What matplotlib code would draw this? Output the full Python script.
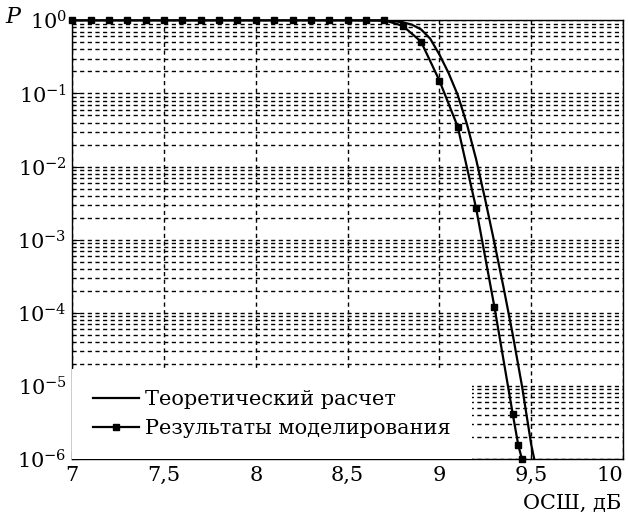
import matplotlib
matplotlib.use("Agg")
import matplotlib.pyplot as plt
import numpy as np
from matplotlib.ticker import FixedLocator, FuncFormatter, LogLocator, NullFormatter

plt.rcParams['font.family'] = ['DejaVu Serif']
plt.rcParams['mathtext.fontset'] = 'dejavuserif'

# theoretical curve
snr_theory = [7.0, 8.5, 8.7, 8.75, 8.8, 8.85, 8.9, 8.95, 9.0, 9.05, 9.1, 9.15,
              9.2, 9.25, 9.3, 9.35, 9.4, 9.45, 9.5, 9.53]
p_theory = [1.0, 1.0, 0.99, 0.97, 0.94, 0.87, 0.75, 0.56, 0.34, 0.19, 0.095, 0.038,
            0.0126, 0.0035, 9e-4, 2.2e-4, 5e-5, 1.0e-5, 1.6e-6, 7e-7]

# simulation results
snr_sim = [7.0, 7.1, 7.2, 7.3, 7.4, 7.5, 7.6, 7.7, 7.8, 7.9, 8.0, 8.1, 8.2,
           8.3, 8.4, 8.5, 8.6, 8.7, 8.8, 8.9, 9.0, 9.1, 9.2, 9.3, 9.4, 9.43, 9.45]
p_sim = [1.0] * 18 + [0.84, 0.51, 0.15, 0.035, 0.0027, 1.2e-4, 4.1e-6, 1.55e-6, 1.0e-6]

x_ticks = [7, 7.5, 8, 8.5, 9, 9.5, 10]

fig = plt.figure(figsize=(6.28, 5.19), dpi=100)
ax = fig.add_axes([0.115, 0.115, 0.877, 0.846])

ax.plot(snr_theory, p_theory, color='black', lw=1.6, label='Теоретический расчет')
ax.plot(snr_sim, p_sim, color='black', lw=1.6, marker='s', ms=5, clip_on=False,
        label='Результаты моделирования')

ax.set_yscale('log')
ax.set_xlim(7, 10)
ax.set_ylim(1e-6, 1)

ax.xaxis.set_major_locator(FixedLocator(x_ticks))
ax.xaxis.set_major_formatter(FuncFormatter(lambda v, p: ('%g' % v).replace('.', ',')))
ax.yaxis.set_major_locator(LogLocator(base=10, numticks=10))
ax.yaxis.set_minor_locator(LogLocator(base=10, subs=np.arange(2, 10), numticks=20))
ax.yaxis.set_minor_formatter(NullFormatter())

ax.tick_params(axis='both', which='major', direction='in', labelsize=15, length=6)
ax.tick_params(axis='y', which='minor', length=0)
ax.tick_params(axis='y', pad=4)
ax.tick_params(axis='x', pad=5)
for lab in ax.get_xticklabels():
    if lab.get_text() == '10':
        lab.set_ha('right')

ax.grid(True, axis='y', which='both', color='black', lw=1.0, ls=(0, (3, 2.5)))
ax.grid(True, axis='x', which='major', color='black', lw=1.0, ls=(0, (3, 2.5)))
for s in ax.spines.values():
    s.set_linewidth(1.0)

leg = ax.legend(loc='lower left', fontsize=15, frameon=True, fancybox=False,
                edgecolor='none', facecolor='white', framealpha=1,
                borderaxespad=0.0, handlelength=2.2, handletextpad=0.3,
                borderpad=1.0, labelspacing=0.5)
leg.set_zorder(5)

fig.text(0.008, 0.968, 'P', fontsize=16, style='italic', ha='left', va='center')
fig.text(0.99, 0.031, 'ОСШ, дБ', fontsize=15, ha='right', va='center')

fig.savefig('out.png', dpi=100)
